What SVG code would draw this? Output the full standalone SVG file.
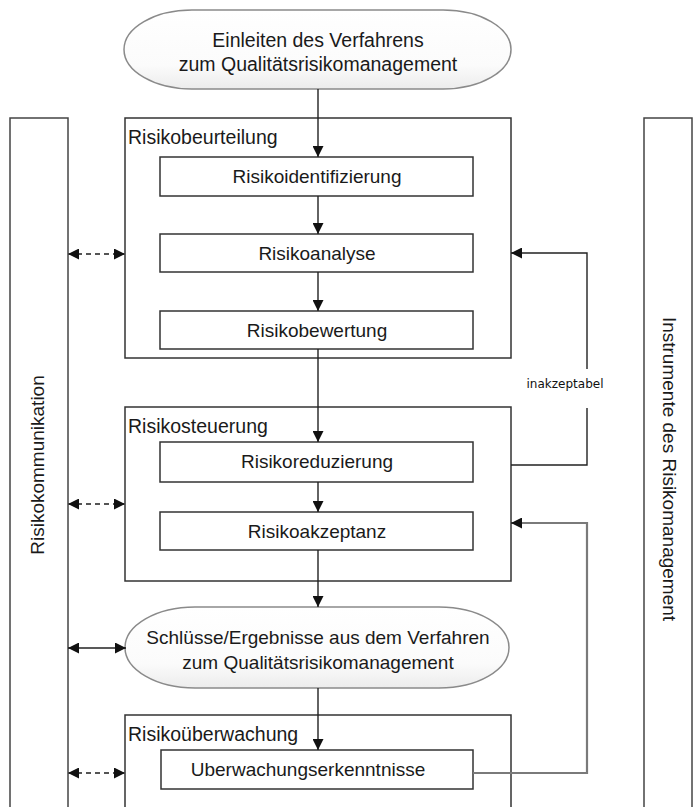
<svg xmlns="http://www.w3.org/2000/svg" width="694" height="807" viewBox="0 0 694 807">
<style>
  .box{fill:#fff;stroke:#333;stroke-width:1.5}
  .bar{fill:#fff;stroke:#444;stroke-width:1.5}
  .term{stroke:#8a8a8a;stroke-width:1.5;fill:url(#tg)}
  .t{font-family:"Liberation Sans",Arial,sans-serif;fill:#1a1a1a}
  .lbl{font-size:19.5px}
  .bx{font-size:19px;text-anchor:middle}
  .el{font-size:19.5px;text-anchor:middle}
  .side{font-size:19px;text-anchor:middle;dominant-baseline:central}
  .small{font-family:"DejaVu Sans",Verdana,sans-serif;font-size:12px;fill:#111;text-anchor:middle}
  .flow{fill:none;stroke:#222;stroke-width:1.4}
  .dash{fill:none;stroke:#555;stroke-width:1.8;stroke-dasharray:5,4}
  .fb2{fill:none;stroke:#7a7a7a;stroke-width:2.2}
</style>
<defs>
  <linearGradient id="tg" x1="0" y1="0" x2="0" y2="1">
    <stop offset="0" stop-color="#ffffff"/>
    <stop offset="0.7" stop-color="#fbfbfb"/>
    <stop offset="1" stop-color="#ececec"/>
  </linearGradient>
  <marker id="ah" markerUnits="userSpaceOnUse" markerWidth="11" markerHeight="11" refX="10" refY="5" orient="auto-start-reverse" viewBox="0 0 10 10">
    <path d="M0,0 L10,5 L0,10 z" fill="#111"/>
  </marker>
</defs>

<g id="side-left">
  <rect class="bar" x="10" y="118" width="58" height="720"/>
  <text class="t side" transform="translate(37,465) rotate(-90)">Risikokommunikation</text>
</g>
<g id="side-right">
  <rect class="bar" x="644" y="118" width="48" height="720"/>
  <text class="t side" transform="translate(669,469) rotate(90)">Instrumente des Risikomanagement</text>
</g>

<g id="start">
  <rect class="term" x="124" y="10" width="387" height="79" rx="68" ry="39.5"/>
  <text class="t el" x="318" y="47">Einleiten des Verfahrens</text>
  <text class="t el" x="318" y="71">zum Qualitätsrisikomanagement</text>
</g>

<g id="risikobeurteilung">
  <rect class="box" x="125" y="118" width="386" height="240"/>
  <text class="t lbl" x="128" y="144">Risikobeurteilung</text>
</g>
<g id="risikoidentifizierung">
  <rect class="box" x="160" y="157" width="313" height="39"/>
  <text class="t bx" x="317" y="183">Risikoidentifizierung</text>
</g>
<g id="risikoanalyse">
  <rect class="box" x="160" y="234" width="313" height="38"/>
  <text class="t bx" x="317" y="260">Risikoanalyse</text>
</g>
<g id="risikobewertung">
  <rect class="box" x="160" y="311" width="313" height="38"/>
  <text class="t bx" x="317" y="337">Risikobewertung</text>
</g>

<g id="risikosteuerung">
  <rect class="box" x="125" y="407" width="386" height="174"/>
  <text class="t lbl" x="128" y="433">Risikosteuerung</text>
</g>
<g id="risikoreduzierung">
  <rect class="box" x="160" y="442" width="313" height="40"/>
  <text class="t bx" x="317" y="468">Risikoreduzierung</text>
</g>
<g id="risikoakzeptanz">
  <rect class="box" x="160" y="512" width="313" height="38"/>
  <text class="t bx" x="317" y="538">Risikoakzeptanz</text>
</g>

<g id="ergebnisse">
  <rect class="term" x="125" y="607" width="384" height="81" rx="70" ry="40.5"/>
  <text class="t bx" x="318" y="644">Schlüsse/Ergebnisse aus dem Verfahren</text>
  <text class="t bx" x="318" y="669">zum Qualitätsrisikomanagement</text>
</g>

<g id="risikoueberwachung">
  <rect class="box" x="125" y="715" width="386" height="120"/>
  <text class="t lbl" x="128" y="741">Risikoüberwachung</text>
</g>
<g id="ueberwachungserkenntnisse">
  <rect class="box" x="161" y="750" width="312" height="39"/>
  <text class="t bx" x="308" y="776">Uberwachungserkenntnisse</text>
</g>

<g id="connectors">
  <path class="flow" d="M318,89 V157" marker-end="url(#ah)"/>
  <path class="flow" d="M318,196 V234" marker-end="url(#ah)"/>
  <path class="flow" d="M318,272 V311" marker-end="url(#ah)"/>
  <path class="flow" d="M318,349 V442" marker-end="url(#ah)"/>
  <path class="flow" d="M318,482 V512" marker-end="url(#ah)"/>
  <path class="flow" d="M318,550 V607" marker-end="url(#ah)"/>
  <path class="flow" d="M318,688 V750" marker-end="url(#ah)"/>

  <path class="flow" d="M511,465 H587 V408 M587,369 V253 H511" marker-end="url(#ah)"/>
  <text class="small" x="565" y="388">inakzeptabel</text>
  <path class="fb2" d="M473,773 H587 V523 H513"/>
  <path class="flow" d="M520,523 H511" marker-end="url(#ah)"/>

  <path class="dash" d="M68,254 H125" marker-start="url(#ah)" marker-end="url(#ah)"/>
  <path class="dash" d="M68,504 H125" marker-start="url(#ah)" marker-end="url(#ah)"/>
  <path class="flow" d="M68,648 H126" marker-start="url(#ah)" marker-end="url(#ah)"/>
  <path class="dash" d="M68,773 H125" marker-start="url(#ah)" marker-end="url(#ah)"/>
</g>
</svg>
